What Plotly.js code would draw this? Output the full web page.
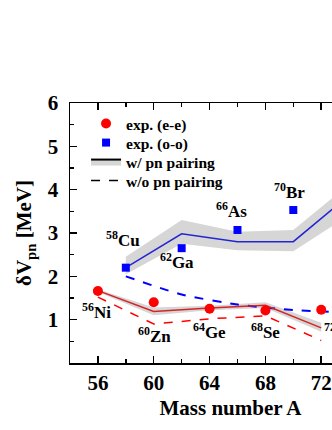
<!DOCTYPE html>
<html><head><meta charset="utf-8">
<script src="https://cdn.plot.ly/plotly-3.0.1.min.js"></script>
<style>html,body{margin:0;padding:0;overflow:hidden;background:#fff;width:332px;height:430px}</style>
</head><body><div id="chart" style="width:420px;height:430px"></div>
<script>
// even-even nuclei
const massEE = [56, 60, 64, 68, 72];
const expEE = [1.66, 1.40, 1.25, 1.21, 1.23];
const withPnEE = [1.67, 1.19, 1.27, 1.33, 0.81];
const withPnEEUpper = [1.70, 1.28, 1.32, 1.40, 0.93];
const withPnEELower = [1.64, 1.10, 1.22, 1.27, 0.72];
const withoutPnEE = [1.52, 0.90, 1.02, 1.09, 0.52];
// odd-odd nuclei
const massOOexp = [58, 62, 66, 70];
const expOO = [2.20, 2.65, 3.07, 3.53];
const massOO = [58, 62, 66, 70, 74];
const withPnOO = [2.20, 2.98, 2.80, 2.80, 3.87];
const withPnOOUpper = [2.45, 3.30, 3.03, 3.07, 4.13];
const withPnOOLower = [2.05, 2.75, 2.60, 2.58, 3.41];
const withoutPnOO = [2.00, 1.58, 1.35, 1.22, 1.17];
// tick labels
const xTicks = [56, 60, 64, 68, 72, 76];
const yTicks = [1, 2, 3, 4, 5, 6];
const yMinor = [0.5, 1.5, 2.5, 3.5, 4.5, 5.5];
// nuclide labels
const nuclideNames = ['<sup>56</sup>Ni','<sup>58</sup>Cu','<sup>60</sup>Zn','<sup>62</sup>Ga','<sup>64</sup>Ge','<sup>66</sup>As','<sup>68</sup>Se','<sup>70</sup>Br','<sup>72</sup>Kr'];
const nuclideX = [55.93, 57.83, 60.05, 61.7, 63.96, 65.58, 67.98, 69.73, 72.06];
const nuclideY = [1.20, 2.86, 0.64, 2.36, 0.73, 3.54, 0.73, 3.96, 0.73];

const FONT = 'Liberation Serif, Times New Roman, serif';
const RED = '#ff0000', REDLINE = '#d42424', BLUE = '#0000ff', BLUELINE = '#2424d0', GREY = 'rgb(214,214,214)';

const traces = [
  {x: massOO, y: withPnOOLower, mode: 'lines', line: {width: 0}, showlegend: false, hoverinfo: 'skip'},
  {x: massOO, y: withPnOOUpper, mode: 'lines', line: {width: 0}, fill: 'tonexty', fillcolor: GREY, showlegend: false, hoverinfo: 'skip'},
  {x: massEE, y: withPnEELower, mode: 'lines', line: {width: 0}, showlegend: false, hoverinfo: 'skip'},
  {x: massEE, y: withPnEEUpper, mode: 'lines', line: {width: 0}, fill: 'tonexty', fillcolor: GREY, showlegend: false, hoverinfo: 'skip'},
  {x: massOO, y: withoutPnOO, mode: 'lines', line: {color: BLUE, width: 2, dash: 'dash', shape: 'spline', smoothing: 0.6}, showlegend: false},
  {x: massEE, y: withoutPnEE, mode: 'lines', line: {color: RED, width: 1.5, dash: 'dash'}, showlegend: false},
  {x: massOO, y: withPnOO, mode: 'lines', line: {color: BLUELINE, width: 1.5}, showlegend: false},
  {x: massEE, y: withPnEE, mode: 'lines', line: {color: REDLINE, width: 1.5}, showlegend: false},
  {x: massEE, y: expEE, mode: 'markers', marker: {color: RED, size: 10, symbol: 'circle'}, name: 'exp. (e-e)', showlegend: true, legend: 'legend'},
  {x: massOOexp, y: expOO, mode: 'markers', marker: {color: BLUE, size: 8, symbol: 'square'}, name: 'exp. (o-o)', showlegend: true, legend: 'legend2'},
  {x: [null], y: [null], mode: 'lines', line: {color: '#000', width: 2}, fill: 'toself', fillcolor: GREY, name: 'w/ pn pairing', showlegend: true, legend: 'legend3'},
  {x: [null], y: [null], mode: 'lines', line: {color: '#000', width: 1.5, dash: 'dash'}, name: 'w/o pn pairing', showlegend: true, legend: 'legend4'}
];

const annotations = nuclideNames.map((t, i) => ({
  x: nuclideX[i], y: nuclideY[i], xref: 'x', yref: 'y', text: t, showarrow: false,
  xanchor: i === 8 ? 'left' : 'center', yanchor: 'middle',
  font: {family: FONT, size: 17, color: '#000', weight: 'bold'}
}));

const axisCommon = {
  showline: true, linecolor: '#000', linewidth: 1.5, mirror: 'ticks',
  ticks: 'inside', ticklen: 7, tickwidth: 1.5, tickcolor: '#000',
  showgrid: false, zeroline: false,
  tickfont: {family: FONT, size: 21, color: '#000', weight: 'bold'}
};

function legendAt(y) {
  return {
    x: 0.05, y: y, xanchor: 'left', yanchor: 'top', traceorder: 'normal',
    bgcolor: 'rgba(0,0,0,0)', borderwidth: 0, itemwidth: 30, tracegroupgap: 0,
    font: {family: FONT, size: 15.5, color: '#000', weight: 'bold'}
  };
}

const layout = {
  width: 420, height: 430,
  margin: {l: 70, r: 29, t: 103, b: 67},
  paper_bgcolor: '#fff', plot_bgcolor: '#fff',
  font: {family: FONT, color: '#000'},
  xaxis: Object.assign({}, axisCommon, {
    range: [54, 77], tickmode: 'array', tickvals: xTicks, ticktext: xTicks.map(String),
    minor: {ticks: 'inside', ticklen: 4, tickwidth: 1.5, tickcolor: '#000', tickmode: 'array', tickvals: [54, 58, 62, 66, 70, 74]},
    title: {text: 'Mass number A', font: {family: FONT, size: 21, color: '#000', weight: 'bold'}, standoff: 6}
  }),
  yaxis: Object.assign({}, axisCommon, {
    range: [0, 6], tickmode: 'array', tickvals: yTicks, ticktext: yTicks.map(String),
    ticklabelstandoff: 6,
    minor: {ticks: 'inside', ticklen: 4, tickwidth: 1.5, tickcolor: '#000', tickmode: 'array', tickvals: yMinor},
    title: {text: 'δV<sub>pn</sub> [MeV]', font: {family: FONT, size: 21, color: '#000', weight: 'bold'}, standoff: 10}
  }),
  legend: legendAt(0.985),
  legend2: legendAt(0.9115),
  legend3: legendAt(0.8385),
  legend4: legendAt(0.7654),
  annotations: annotations,
  showlegend: true
};

Plotly.newPlot('chart', traces, layout, {displayModeBar: false, staticPlot: true});
</script></body></html>
